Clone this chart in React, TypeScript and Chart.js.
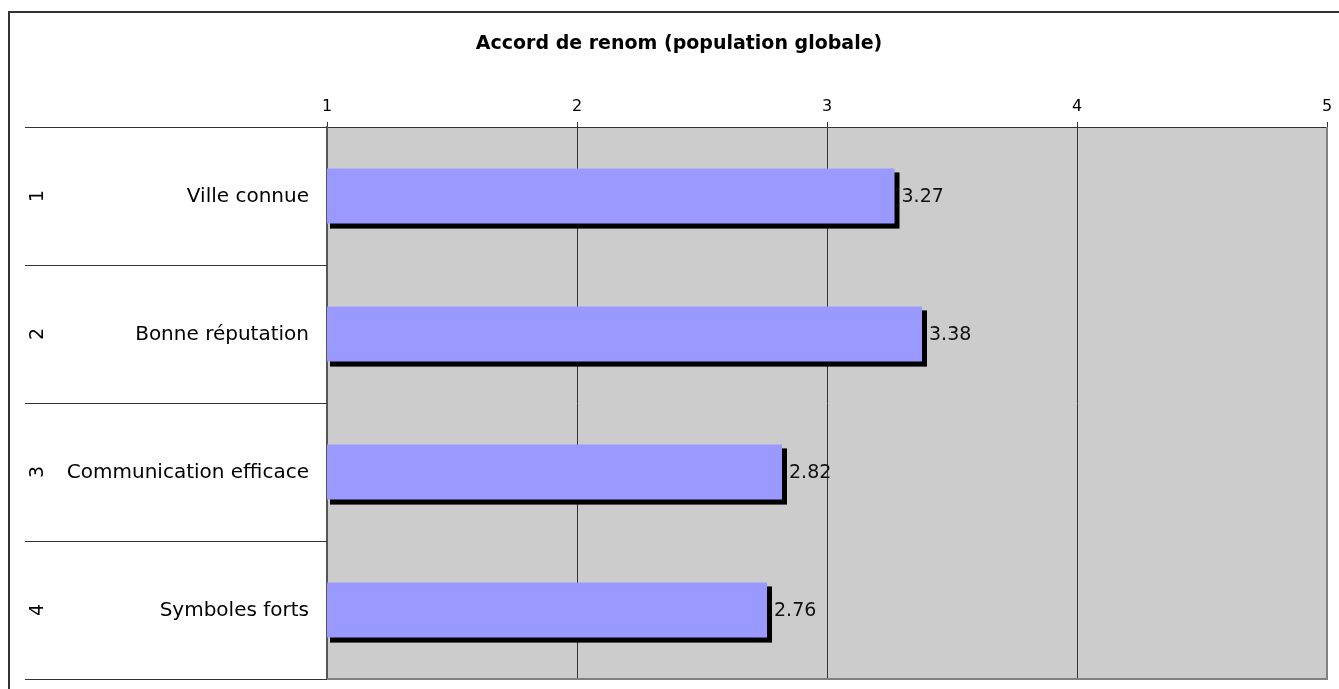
import React, { useEffect, useRef } from "react";
import { Chart, registerables } from "chart.js";

Chart.register(...registerables);

const chartTitle = "Accord de renom (population globale)";
const itemNumbers = ["1", "2", "3", "4"];
const categories = ["Ville connue", "Bonne réputation", "Communication efficace", "Symboles forts"];
const scores = [3.27, 3.38, 2.82, 2.76];
const axisMin = 1;
const axisMax = 5;

const FONT = "'DejaVu Sans', Verdana, sans-serif";

const decorPlugin = {
  id: "decor",
  beforeDraw(chart: any) {
    const { ctx, chartArea: a } = chart;
    ctx.save();
    ctx.fillStyle = "#CCCCCC";
    ctx.fillRect(a.left, a.top, a.right - a.left, a.bottom - a.top);
    ctx.restore();
  },
  beforeDatasetsDraw(chart: any) {
    const { ctx } = chart;
    const x = chart.scales.x;
    const start = x.getPixelForValue(axisMin);
    const meta = chart.getDatasetMeta(0);
    ctx.save();
    ctx.fillStyle = "#000000";
    meta.data.forEach((bar: any) => {
      const p = bar.getProps(["x", "y", "height"], true);
      const top = p.y - p.height / 2;
      const bottom = p.y + p.height / 2;
      ctx.fillRect(start + 3, top + 4, p.x - start + 2, bottom - top + 1);
    });
    ctx.restore();
  },
  afterDraw(chart: any) {
    const { ctx, chartArea: a } = chart;
    const y = chart.scales.y;
    const meta = chart.getDatasetMeta(0);
    ctx.save();

    // value labels to the right of each bar
    ctx.fillStyle = "#111111";
    ctx.font = `19px ${FONT}`;
    ctx.textAlign = "left";
    ctx.textBaseline = "middle";
    meta.data.forEach((bar: any, i: number) => {
      const p = bar.getProps(["x", "y"], true);
      ctx.fillText(scores[i].toFixed(2), p.x + 7, p.y + 1);
    });

    // row separators in the label column
    ctx.strokeStyle = "#333333";
    ctx.lineWidth = 1;
    for (let i = 0; i <= categories.length; i++) {
      const yy = Math.round(y.getPixelForValue(i - 0.5)) + 0.5;
      ctx.beginPath();
      ctx.moveTo(25, yy);
      ctx.lineTo(a.left, yy);
      ctx.stroke();
    }

    // category names
    ctx.fillStyle = "#000000";
    ctx.font = `20px ${FONT}`;
    ctx.textAlign = "right";
    ctx.textBaseline = "middle";
    categories.forEach((c, i) => {
      ctx.fillText(c, a.left - 18, y.getPixelForValue(i) + 1);
    });

    // rotated item numbers
    ctx.font = `19px ${FONT}`;
    ctx.textAlign = "center";
    itemNumbers.forEach((n, i) => {
      const yy = y.getPixelForValue(i);
      ctx.save();
      ctx.translate(38, yy);
      ctx.rotate(-Math.PI / 2);
      ctx.fillText(n, 0, 0);
      ctx.restore();
    });

    // plot area right and bottom edges
    ctx.strokeStyle = "#808080";
    ctx.lineWidth = 2;
    ctx.beginPath();
    ctx.moveTo(a.right, a.top);
    ctx.lineTo(a.right, a.bottom);
    ctx.lineTo(a.left, a.bottom);
    ctx.stroke();

    // outer frame
    ctx.strokeStyle = "#333333";
    ctx.lineWidth = 2;
    ctx.beginPath();
    ctx.moveTo(9, chart.height + 5);
    ctx.lineTo(9, 12);
    ctx.lineTo(chart.width + 5, 12);
    ctx.stroke();

    // title
    ctx.fillStyle = "#000000";
    ctx.font = `bold 19px ${FONT}`;
    ctx.textAlign = "center";
    ctx.textBaseline = "middle";
    ctx.fillText(chartTitle, 679, 44);

    ctx.restore();
  },
};

export default function App() {
  const ref = useRef<HTMLCanvasElement | null>(null);

  useEffect(() => {
    if (!ref.current) return;
    const chart = new Chart(ref.current, {
      type: "bar",
      data: {
        labels: categories,
        datasets: [
          {
            data: scores,
            backgroundColor: "#9999FF",
            borderWidth: 0,
            barPercentage: 0.4,
            categoryPercentage: 1,
          },
        ],
      },
      options: {
        indexAxis: "y",
        responsive: false,
        animation: false,
        devicePixelRatio: 1,
        layout: { padding: { left: 0, right: 12, top: 67, bottom: 10 } },
        plugins: {
          legend: { display: false },
          tooltip: { enabled: false },
          title: { display: false },
        },
        scales: {
          x: {
            position: "top",
            min: axisMin,
            max: axisMax,
            afterFit: (s: any) => {
              s.height = 60;
            },
            ticks: {
              stepSize: 1,
              color: "#000000",
              font: { family: FONT, size: 16 },
              padding: 6,
            },
            grid: {
              color: "#333333",
              lineWidth: 1,
              tickLength: 5,
              tickColor: "#333333",
            },
            border: { color: "#333333", width: 1 },
          },
          y: {
            afterFit: (s: any) => {
              s.width = 327;
            },
            ticks: { display: false },
            grid: { display: false },
            border: { display: true, color: "#555555", width: 2 },
          },
        },
      },
      plugins: [decorPlugin],
    } as any);
    return () => chart.destroy();
  }, []);

  return (
    <div style={{ position: "absolute", left: 0, top: 0, width: 1339, height: 689 }}>
      <canvas ref={ref} width={1339} height={689} style={{ display: "block" }} />
    </div>
  );
}
